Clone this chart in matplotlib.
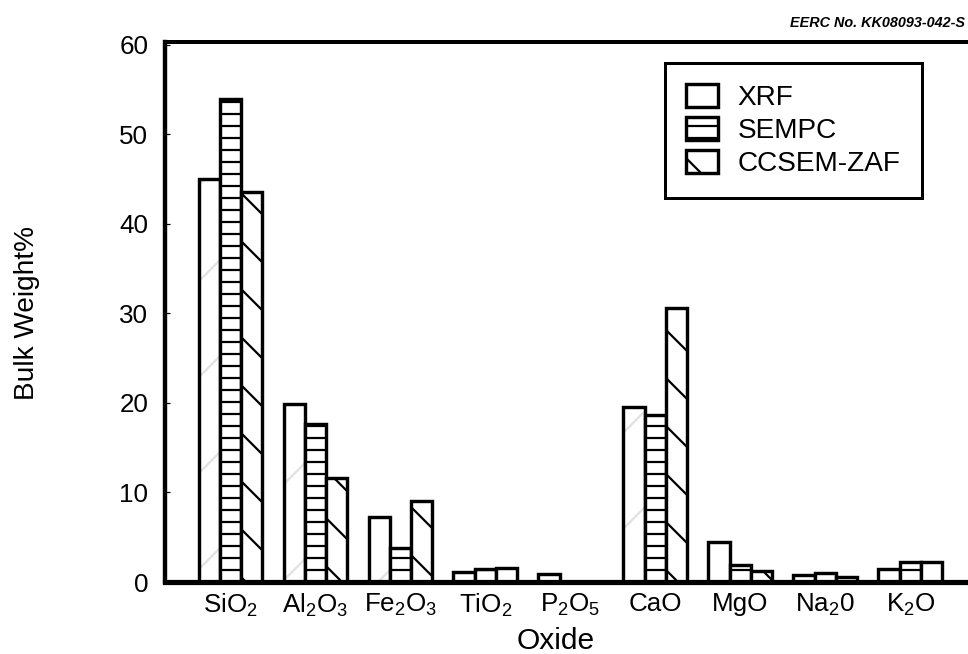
import numpy as np
import matplotlib
matplotlib.use("Agg")
import matplotlib.pyplot as plt

# bulk composition of the ash, wt%
oxides = [r'SiO$_\mathrm{2}$', r'Al$_\mathrm{2}$O$_\mathrm{3}$', r'Fe$_\mathrm{2}$O$_\mathrm{3}$',
          r'TiO$_\mathrm{2}$', r'P$_\mathrm{2}$O$_\mathrm{5}$', 'CaO', 'MgO',
          r'Na$_\mathrm{2}$0', r'K$_\mathrm{2}$O']
xrf = [45.0, 19.9, 7.3, 1.1, 0.9, 19.6, 4.5, 0.75, 1.5]
sempc = [54.0, 17.7, 3.8, 1.4, 0.0, 18.7, 1.9, 1.0, 2.2]
ccsem = [43.6, 11.6, 9.1, 1.6, 0.0, 30.6, 1.2, 0.6, 2.2]
series = ['XRF', 'SEMPC', 'CCSEM-ZAF']

plt.rcParams['font.family'] = ['Liberation Sans', 'DejaVu Sans']
plt.rcParams['mathtext.fontset'] = 'custom'
plt.rcParams['mathtext.rm'] = 'Liberation Sans'
plt.rcParams['mathtext.it'] = 'Liberation Sans:italic'
plt.rcParams['mathtext.bf'] = 'Liberation Sans:bold'
plt.rcParams['hatch.linewidth'] = 0.55

# high dpi so the hatch cells come out wide (one cell = one inch)
DPI = 288
fig = plt.figure(figsize=(968 / DPI, 654 / DPI), dpi=DPI)
ax = fig.add_axes([165 / 968, 72 / 654, 803 / 968, 539.7 / 654])

x = np.arange(len(oxides))
w = 0.25

# faint stipple under the XRF bars
ax.bar(x - w, xrf, w, color='white', edgecolor='#e2e2e2', linewidth=0, hatch='/')
ax.bar(x - w, xrf, w, color='none', edgecolor='black', linewidth=0.85, label=series[0])
ax.bar(x, sempc, w, color='white', edgecolor='black', linewidth=0.85, hatch='----', label=series[1])
ax.bar(x + w, ccsem, w, color='white', edgecolor='black', linewidth=0.85, hatch='\\\\', label=series[2])

ax.set_xlim(-0.77, 8.68)
ax.set_ylim(0, 60.3)
ax.set_yticks([0, 10, 20, 30, 40, 50, 60])
ax.set_xticks(x)
ax.set_xticklabels(oxides, fontsize=6.5)
ax.tick_params(axis='y', direction='in', length=1.3, width=0.3, labelsize=6.5, pad=4.2)
ax.tick_params(axis='x', length=0, pad=2.5)

ax.spines['right'].set_visible(False)
ax.spines['left'].set_linewidth(1.1)
ax.spines['top'].set_linewidth(1.0)
ax.spines['bottom'].set_linewidth(1.3)

leg = ax.legend(loc='upper left', bbox_to_anchor=(0.6227, 0.9617), borderaxespad=0,
                fontsize=7, frameon=True, fancybox=False, edgecolor='black',
                handlelength=1.15, handleheight=0.9, handletextpad=0.7,
                labelspacing=0.2, borderpad=0.75)
leg.get_frame().set_linewidth(0.75)
leg.get_frame().set_alpha(1)

fig.text(556 / 968, 1 - 641 / 654, 'Oxide', fontsize=7.5, ha='center', va='center')
fig.text(27 / 968, 1 - 313 / 654, 'Bulk Weight%', fontsize=7, rotation=90,
         ha='center', va='center')
fig.text(965 / 968, 1 - 23 / 654, 'EERC No. KK08093-042-S', fontsize=3.6,
         style='italic', weight='bold', ha='right', va='center')

fig.savefig('out.png', dpi=DPI)
